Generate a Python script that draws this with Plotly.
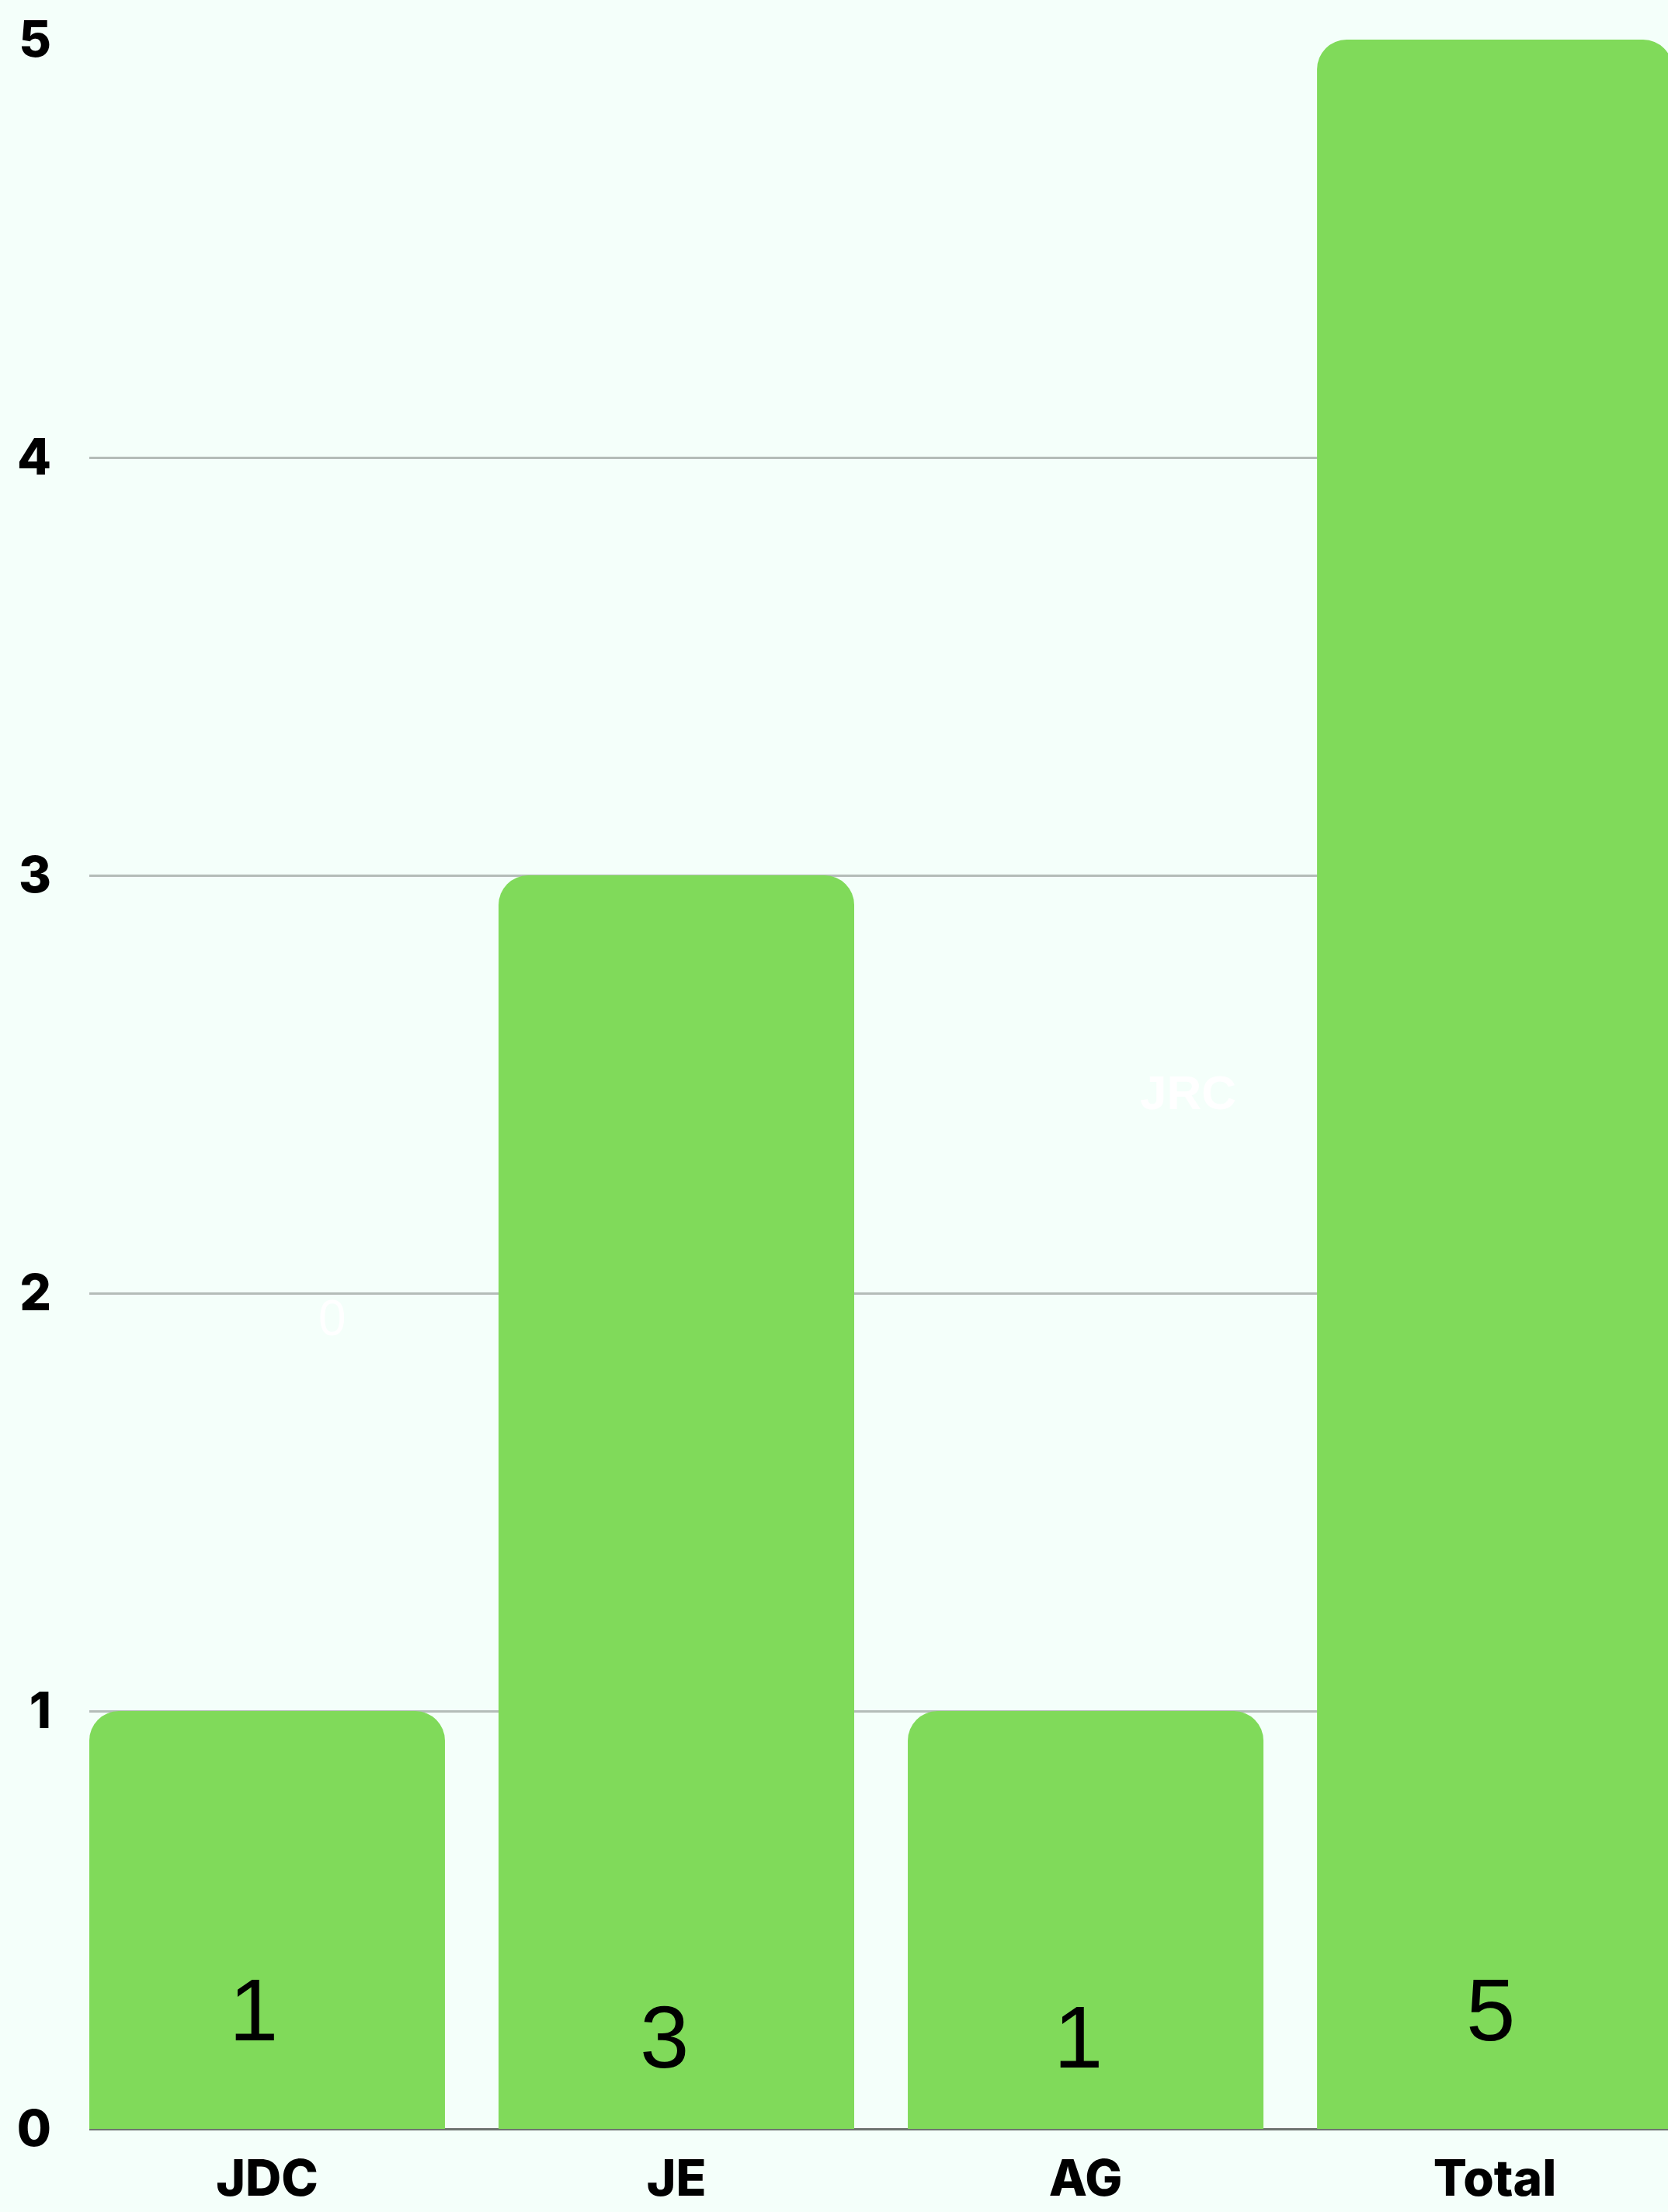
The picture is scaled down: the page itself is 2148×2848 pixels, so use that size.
import plotly.graph_objects as go

categories = ["JDC", "JE", "AG", "Total"]
values = [1, 3, 1, 5]
value_labels = ["1", "3", "1", "5"]
y_ticks = [0, 1, 2, 3, 4, 5]

BG = "#F4FFFA"
BAR = "#80DA5A"
GRID = "#B4BCB8"
ZERO = "#6E7470"

fig = go.Figure()
fig.add_trace(go.Bar(
    x=categories, y=values,
    marker=dict(color=BAR, line=dict(width=0), cornerradius=38),
    hoverinfo="skip", showlegend=False,
))

# in-bar value labels (position styling)
label_y = [0.285, 0.22, 0.22, 0.285]
label_dx = [-17, -16, -10, -6]
for c, t, ly, dx in zip(categories, value_labels, label_y, label_dx):
    fig.add_annotation(x=c, y=ly, text=t, showarrow=False, xshift=dx,
                       font=dict(family="Liberation Sans, Arial", size=114, color="#000000"))

# faint white texts on background
fig.add_annotation(x=0.16, y=1.94, text="0", showarrow=False,
                   font=dict(family="Liberation Sans, Arial", size=64, color="#FFFFFF"))
fig.add_annotation(x=2.25, y=2.48, text="<b>JRC</b>", showarrow=False,
                   font=dict(family="Liberation Sans, Arial", size=62, color="#FFFFFF"))

fig.update_layout(
    width=2148, height=2848,
    margin=dict(l=115, r=0, t=51, b=107, autoexpand=False),
    paper_bgcolor=BG, plot_bgcolor=BG,
    bargap=0.131,
    xaxis=dict(
        range=[-0.4345, 3.423], showgrid=False, zeroline=False, showline=False,
        tickfont=dict(family="Inter", size=64, color="#000000", weight=800),
        ticks="", ticklabelstandoff=21, fixedrange=True, automargin=False,
    ),
    yaxis=dict(
        range=[0, 5], tickvals=y_ticks, ticktext=[str(v) for v in y_ticks],
        showgrid=True, gridcolor=GRID, gridwidth=3,
        zeroline=True, zerolinecolor=ZERO, zerolinewidth=3,
        showline=False, ticks="",
        tickfont=dict(family="Inter", size=64, color="#000000", weight=800),
        ticklabelstandoff=48, fixedrange=True, automargin=False,
    ),
)

fig.write_html(
    "out.html",
    config={"displayModeBar": False},
    post_script="document.body.style.margin='0';document.body.style.overflow='hidden';document.body.style.background='" + BG + "';",
)
